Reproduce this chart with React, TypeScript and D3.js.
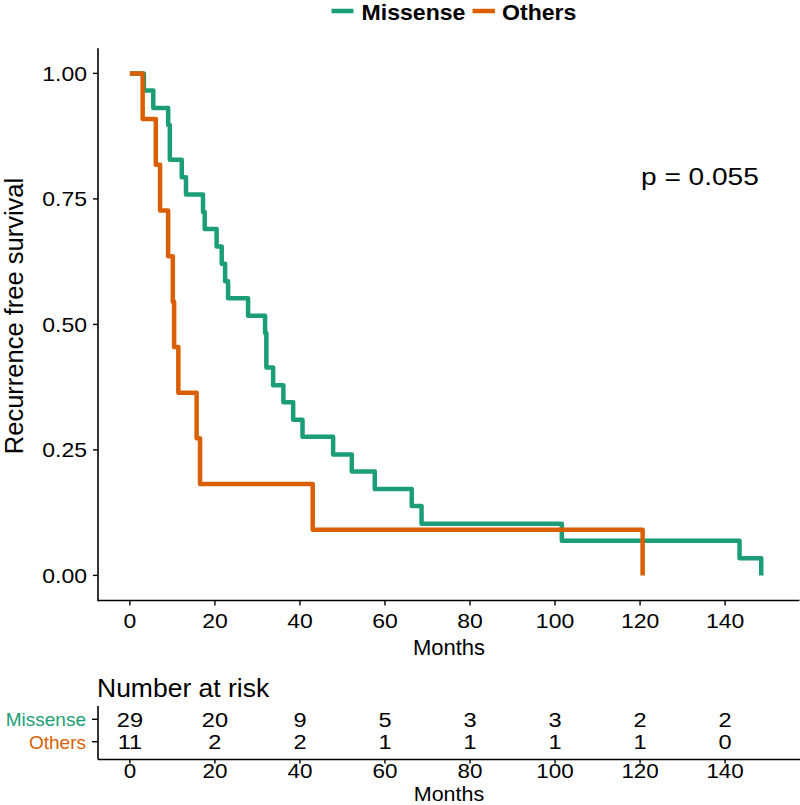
import React from "react";
import * as d3 from "d3";

const groups = ["Missense", "Others"];
const colors = ["#1B9E77", "#D95F02"];

const missenseTimes = [0, 3.3, 5.5, 9.0, 9.4, 12.2, 13.2, 17.2, 17.6, 20.4, 21.6, 22.4, 23.1, 27.8, 31.8, 32.1, 33.7, 36.1, 38.4, 40.6, 47.8, 52.2, 57.6, 66.3, 68.6, 101.6, 143.4, 148.5];
const missenseSurv = [1, 0.966, 0.931, 0.897, 0.828, 0.793, 0.759, 0.724, 0.69, 0.655, 0.621, 0.586, 0.552, 0.517, 0.483, 0.414, 0.379, 0.345, 0.31, 0.276, 0.241, 0.207, 0.172, 0.138, 0.103, 0.069, 0.034, 0];

const othersTimes = [0, 3.0, 6.1, 7.1, 9.0, 10.1, 10.4, 11.4, 15.7, 16.5, 43.0, 120.6];
const othersSurv = [1, 0.909, 0.818, 0.727, 0.636, 0.545, 0.455, 0.364, 0.273, 0.182, 0.091, 0];

const riskMonths = [0, 20, 40, 60, 80, 100, 120, 140];
const missenseRisk = [29, 20, 9, 5, 3, 3, 2, 2];
const othersRisk = [11, 2, 2, 1, 1, 1, 1, 0];

const yTicks = [0, 0.25, 0.5, 0.75, 1];
const pText = "p = 0.055";

const FONT = "'Liberation Sans', Arial, Helvetica, sans-serif";

type TP = {
  x: number;
  y: number;
  sx?: number;
  size: number;
  anchor?: string;
  weight?: string;
  fill?: string;
  dy?: string;
  children: React.ReactNode;
};

function T({ x, y, sx = 1, size, anchor = "start", weight = "normal", fill = "#000", dy = "0.36em", children }: TP) {
  return (
    <text
      transform={`translate(${x},${y}) scale(${sx},1)`}
      dy={dy}
      textAnchor={anchor}
      fontSize={size}
      fontWeight={weight}
      fill={fill}
    >
      {children}
    </text>
  );
}

export default function App() {
  const W = 800, H = 805;
  const x = d3.scaleLinear().domain([-7.5, 157.5]).range([98, 799.5]);
  const y = d3.scaleLinear().domain([-0.05, 1.05]).range([600.5, 48.3]);
  const line = d3
    .line<[number, number]>()
    .x((d) => x(d[0]))
    .y((d) => y(d[1]))
    .curve(d3.curveStepAfter);

  const series = [
    missenseTimes.map((t, i) => [t, missenseSurv[i]] as [number, number]),
    othersTimes.map((t, i) => [t, othersSurv[i]] as [number, number]),
  ];
  const risks = [missenseRisk, othersRisk];

  const rowY = d3.scalePoint<string>().domain(groups).range([719.3, 741.7]);
  const riskTop = 706, riskBottom = 759.5;
  const axisColor = "#000";
  const fmt = d3.format(".2f");
  const SX = 1.15;

  return (
    <svg
      width={W}
      height={H}
      style={{ position: "absolute", left: 0, top: 0, background: "#fff" }}
      fontFamily={FONT}
    >
      <rect x={0} y={0} width={W} height={H} fill="#fff" />
      {/* Legend */}
      <g>
        <line x1={331.5} x2={353.5} y1={11} y2={11} stroke={colors[0]} strokeWidth={4.5} />
        <T x={361.5} y={20} sx={1.05} size={22} weight="bold" dy="0">Missense</T>
        <line x1={472.5} x2={495} y1={11} y2={11} stroke={colors[1]} strokeWidth={4.5} />
        <T x={502} y={20} sx={1.05} size={22} weight="bold" dy="0">Others</T>
      </g>

      {/* Main axes */}
      <line x1={x.range()[0]} x2={x.range()[1]} y1={y.range()[0]} y2={y.range()[0]} stroke={axisColor} strokeWidth={1.6} />
      <line x1={x.range()[0]} x2={x.range()[0]} y1={y.range()[1]} y2={y.range()[0] + 0.8} stroke={axisColor} strokeWidth={1.6} />
      {yTicks.map((v) => (
        <g key={"yt" + v}>
          <line x1={x.range()[0] - 5} x2={x.range()[0]} y1={y(v)} y2={y(v)} stroke={axisColor} strokeWidth={1.4} />
          <T x={87} y={y(v)} sx={SX} size={20} anchor="end">{fmt(v)}</T>
        </g>
      ))}
      {riskMonths.map((m) => (
        <g key={"xt" + m}>
          <line x1={x(m)} x2={x(m)} y1={y.range()[0]} y2={y.range()[0] + 5} stroke={axisColor} strokeWidth={1.4} />
          <T x={x(m)} y={621} sx={SX} size={20} anchor="middle">{m}</T>
        </g>
      ))}
      <T x={449} y={647} size={22} anchor="middle">Months</T>
      <text transform={`translate(14,316) rotate(-90)`} dy="0.36em" textAnchor="middle" fontSize={25.5} fill="#000">
        Recurrence free survival
      </text>

      {/* Curves */}
      {series.map((s, i) => (
        <path key={groups[i]} d={line(s) || ""} fill="none" stroke={colors[i]} strokeWidth={4.5} strokeLinejoin="round" strokeLinecap="butt" />
      ))}

      <T x={641} y={185} sx={1.17} size={24} dy="0">{pText}</T>

      {/* Risk table */}
      <T x={97} y={697} sx={1.06} size={25} dy="0">Number at risk</T>
      <line x1={98} x2={98} y1={riskTop} y2={riskBottom} stroke={axisColor} strokeWidth={1.6} />
      <line x1={98} x2={800} y1={riskBottom} y2={riskBottom} stroke={axisColor} strokeWidth={1.6} />
      {groups.map((g, gi) => (
        <g key={"r" + g}>
          <line x1={92} x2={98} y1={rowY(g)!} y2={rowY(g)!} stroke={axisColor} strokeWidth={1.4} />
          <T x={86} y={rowY(g)!} size={19} anchor="end" fill={colors[gi]}>{g}</T>
          {riskMonths.map((m, mi) => (
            <T key={m} x={x(m)} y={rowY(g)!} sx={SX} size={20.5} anchor="middle">
              {risks[gi][mi]}
            </T>
          ))}
        </g>
      ))}
      {riskMonths.map((m) => (
        <g key={"rxt" + m}>
          <line x1={x(m)} x2={x(m)} y1={riskBottom} y2={riskBottom + 4} stroke={axisColor} strokeWidth={1.4} />
          <T x={x(m)} y={771} sx={SX} size={19.5} anchor="middle">{m}</T>
        </g>
      ))}
      <T x={449} y={793.3} sx={1.05} size={20.5} anchor="middle">Months</T>
    </svg>
  );
}
